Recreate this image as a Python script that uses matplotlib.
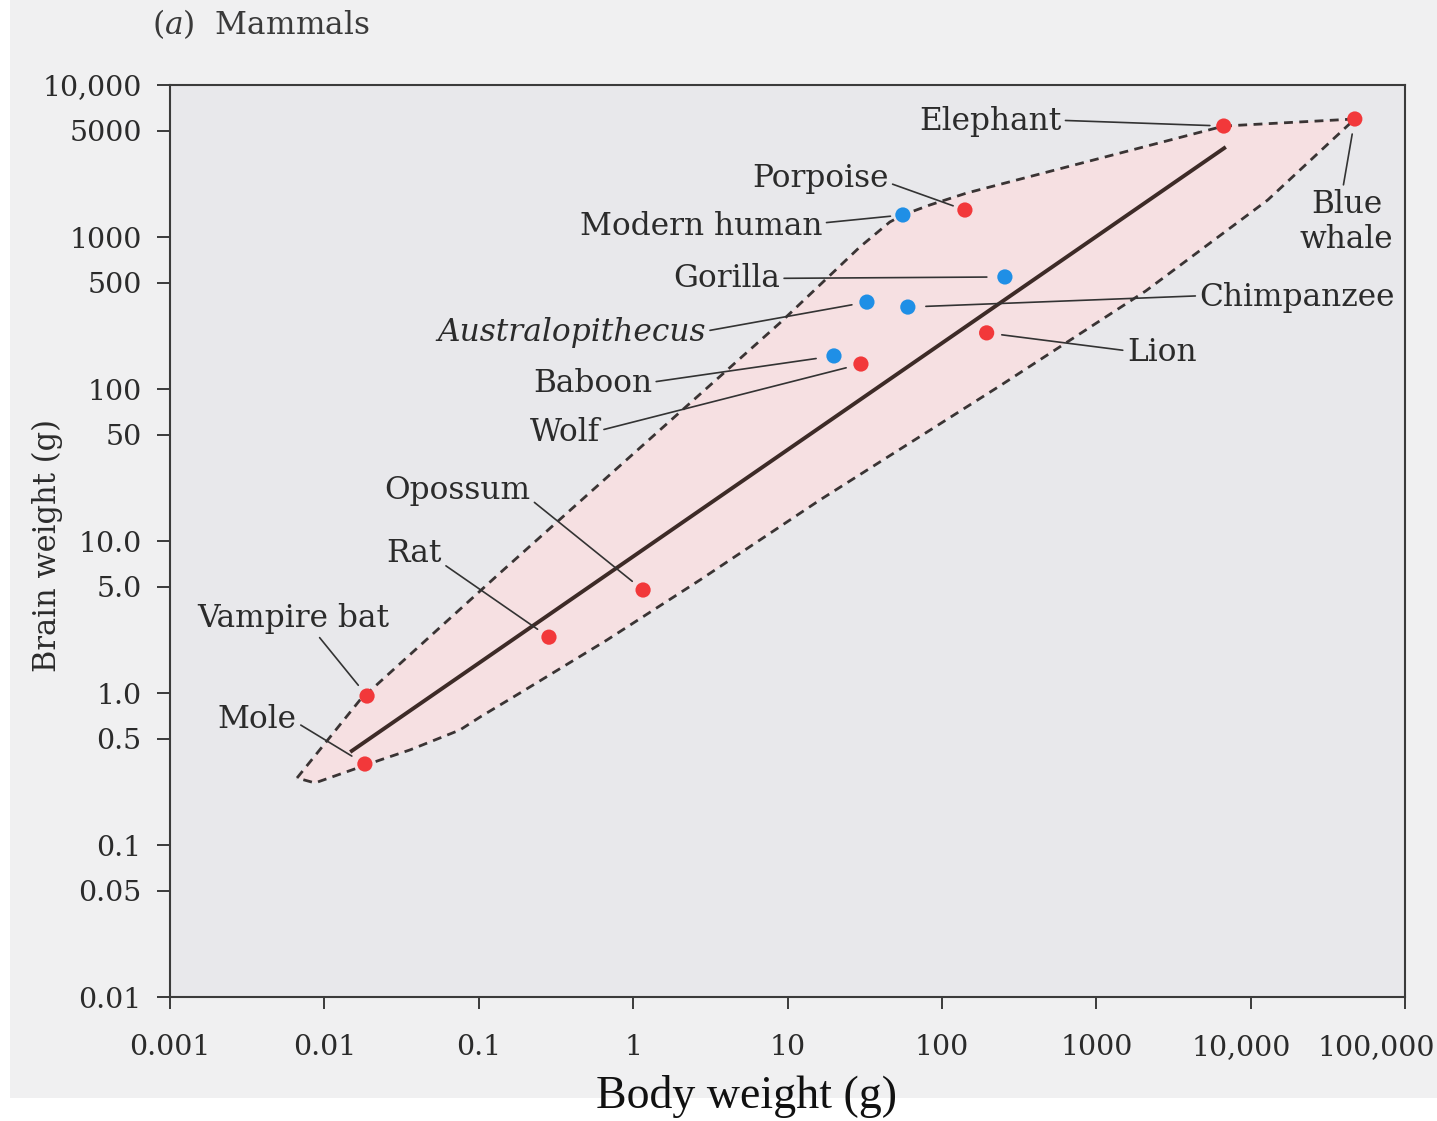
import matplotlib
matplotlib.use("Agg")
import matplotlib.pyplot as plt
from matplotlib.patches import Rectangle
from matplotlib.ticker import NullLocator
from matplotlib.transforms import ScaledTranslation

plt.rcParams['font.family'] = ['DejaVu Serif']
plt.rcParams['mathtext.fontset'] = 'dejavuserif'

# ---------------- data ----------------
species = ["Elephant", "Blue\nwhale", "Porpoise", "Modern human", "Gorilla",
           "Australopithecus", "Chimpanzee", "Lion", "Baboon", "Wolf",
           "Opossum", "Rat", "Vampire bat", "Mole"]
body_g = [6700, 47300, 141, 55.9, 256, 32.7, 60.2, 195, 20.0, 29.9,
          1.16, 0.285, 0.0189, 0.0183]
brain_g = [5370, 5975, 1505, 1396, 546, 373, 346, 234, 165, 146,
           4.76, 2.33, 0.955, 0.341]
is_primate = [False, False, False, True, True, True, True, False, True, False,
              False, False, False, False]

# envelope (dashed polygon)
env_body = [0.00665, 0.0170, 0.137, 1.49, 8.93, 29.4, 46.0, 55.9, 83.6, 145,
            6700, 47300, 12900, 2095, 238, 16.2, 2.71, 0.676, 0.185, 0.102,
            0.0755, 0.0358, 0.0229, 0.00869]
env_brain = [0.276, 0.899, 6.15, 53.7, 272, 859, 1255, 1396, 1624, 1947,
             5370, 5975, 1751, 442, 105, 18.6, 5.54, 2.23, 1.0, 0.695,
             0.571, 0.422, 0.362, 0.256]

# regression line
reg_body = [0.0147, 6906]
reg_brain = [0.409, 3909]

x_ticks = [0.001, 0.01, 0.1, 1, 10, 100, 1000, 10000, 100000]
x_ticklabels = ["0.001", "0.01", "0.1", "1", "10", "100", "1000", "10,000", "100,000"]
y_ticks = [10000, 5000, 1000, 500, 100, 50, 10, 5, 1, 0.5, 0.1, 0.05, 0.01]
y_ticklabels = ["10,000", "5000", "1000", "500", "100", "50", "10.0", "5.0",
                "1.0", "0.5", "0.1", "0.05", "0.01"]

# ---------------- figure ----------------
W, H = 1437, 1121
fig = plt.figure(figsize=(W / 100, H / 100), dpi=100)
fig.patch.set_facecolor('white')
fig.patches.append(Rectangle((10 / W, 23 / H), 1, 1, transform=fig.transFigure,
                             facecolor='#f0f0f1', edgecolor='none', zorder=-10))

ax = fig.add_axes([170 / W, 1 - 997 / H, 1235 / W, 912 / H])
ax.set_facecolor('#e8e8eb')
ax.set_xscale('log')
ax.set_yscale('log')
ax.set_xlim(1e-3, 1e5)
ax.set_ylim(1e-2, 1e4)

ink = '#2b2b2b'

# envelope
ax.fill(env_body, env_brain, facecolor='#f6e0e2', edgecolor='none', zorder=1)
ax.plot(env_body + env_body[:1], env_brain + env_brain[:1], color='#3a3434',
        lw=2.0, linestyle=(0, (3.2, 2.3)), zorder=2)

# regression line
ax.plot(reg_body, reg_brain, color='#3d2b27', lw=2.8, solid_capstyle='butt', zorder=3)

# points
colors = ['#1f8fe6' if p else '#f2383a' for p in is_primate]
ax.scatter(body_g, brain_g, s=120, c=colors, edgecolors='none', zorder=5)

# labels: (offset pts, ha, va, relpos, shrinkB)
label_layout = {
    "Elephant": ((-117, 3), 'right', 'center', (1, 0.55), 10),
    "Blue\nwhale": ((-6, -74), 'center', 'center', (0.46, 1), 11),
    "Porpoise": ((-55, 23), 'right', 'center', (1, 0.35), 9),
    "Modern human": ((-58, -8), 'right', 'center', (1, 0.6), 9),
    "Gorilla": ((-162, -1), 'right', 'center', (1, 0.5), 13),
    "Australopithecus": ((-116, -22), 'right', 'center', (1, 0.55), 11),
    "Chimpanzee": ((210, 7), 'left', 'center', (0, 0.55), 13),
    "Lion": ((101, -14), 'left', 'center', (0, 0.55), 11),
    "Baboon": ((-131, -20), 'right', 'center', (1, 0.55), 13),
    "Wolf": ((-188, -49), 'right', 'center', (1, 0.55), 11),
    "Opossum": ((-81, 72), 'right', 'center', (1, 0.2), 10),
    "Rat": ((-77, 60), 'right', 'center', (1, 0.2), 10),
    "Vampire bat": ((-53, 56), 'center', 'center', (0.62, 0), 10),
    "Mole": ((-49, 32), 'right', 'center', (1, 0.4), 11),
}

for name, bx, by in zip(species, body_g, brain_g):
    off, ha, va, rel, shb = label_layout[name]
    style = 'italic' if name == "Australopithecus" else 'normal'
    ax.annotate(name, xy=(bx, by), xytext=off, textcoords='offset points',
                ha=ha, va=va, fontsize=22.5, color=ink, fontstyle=style,
                multialignment='center', linespacing=1.15,
                arrowprops=dict(arrowstyle='-', color='#333333', lw=1.2,
                                shrinkA=1, shrinkB=shb, relpos=rel),
                zorder=6)

# axes styling
for sp in ax.spines.values():
    sp.set_linewidth(1.5)
    sp.set_color('#3b3b3b')

ax.set_xticks(x_ticks)
ax.set_xticklabels(x_ticklabels)
ax.set_yticks(y_ticks)
ax.set_yticklabels(y_ticklabels)
ax.xaxis.set_minor_locator(NullLocator())
ax.yaxis.set_minor_locator(NullLocator())
ax.tick_params(axis='x', direction='out', length=8.5, width=1.4, pad=18,
               labelsize=20.5, colors='#3b3b3b', labelcolor=ink)
ax.tick_params(axis='y', direction='out', length=9.4, width=1.4, pad=11,
               labelsize=20.5, colors='#3b3b3b', labelcolor=ink)

# shift the last two x tick labels left to fit the page as in the original
xl = ax.get_xticklabels()
xl[-1].set_transform(xl[-1].get_transform() + ScaledTranslation(-0.29, 0, fig.dpi_scale_trans))
xl[-2].set_transform(xl[-2].get_transform() + ScaledTranslation(-0.09, 0, fig.dpi_scale_trans))

# axis titles
fig.text(746 / W, 1 - 1097 / H, "Body weight (g)", ha='center', va='center',
         fontsize=33, family='Liberation Serif', color='#111111')
fig.text(47 / W, 1 - 545 / H, "Brain weight (g)", ha='center', va='center',
         rotation=90, fontsize=22, color=ink)
fig.text(152 / W, 1 - 24 / H, r"($\mathit{a}$)  Mammals", ha='left', va='center',
         fontsize=22.5, color='#3a3a3a')

fig.savefig("out.png", dpi=100, facecolor=fig.get_facecolor())
